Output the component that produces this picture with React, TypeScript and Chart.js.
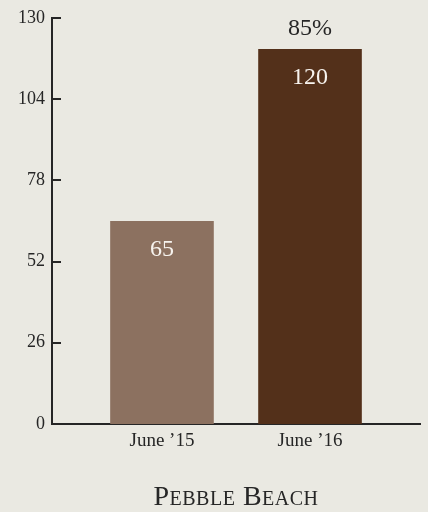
import React, { useEffect, useRef } from "react";
import { Chart, registerables } from "chart.js";

Chart.register(...registerables);

const categories = ["June ’15", "June ’16"];
const values = [65, 120];
const changeLabels = ["", "85%"];
const yTicks = [0, 26, 52, 78, 104, 130];
const barColors = ["#8C7160", "#53301A"];
const chartTitle = "Pebble Beach";

const FONT = "'Liberation Serif', 'DejaVu Serif', serif";
const INK = "#262626";
const BG = "#EAE9E2";

const inwardTicks = {
  id: "inwardTicks",
  afterDraw(chart: any) {
    const { ctx, chartArea, scales } = chart;
    const y = scales.y;
    ctx.save();
    ctx.strokeStyle = INK;
    ctx.lineWidth = 2;
    yTicks.forEach((v) => {
      const py = Math.round(y.getPixelForValue(v));
      ctx.beginPath();
      ctx.moveTo(chartArea.left, py);
      ctx.lineTo(chartArea.left + 9, py);
      ctx.stroke();
    });
    ctx.restore();
  },
};

const barLabels = {
  id: "barLabels",
  afterDatasetsDraw(chart: any) {
    const { ctx } = chart;
    const meta = chart.getDatasetMeta(0);
    ctx.save();
    ctx.textAlign = "center";
    ctx.textBaseline = "middle";
    ctx.font = `24px ${FONT}`;
    meta.data.forEach((bar: any, i: number) => {
      ctx.fillStyle = "#F7F3EE";
      ctx.fillText(String(values[i]), bar.x, bar.y + 29);
      if (changeLabels[i]) {
        ctx.fillStyle = INK;
        ctx.fillText(changeLabels[i], bar.x, bar.y - 20);
      }
    });
    ctx.restore();
  },
};

export default function App() {
  const ref = useRef<HTMLCanvasElement | null>(null);

  useEffect(() => {
    document.body.style.margin = "0";
    document.body.style.background = BG;
    const chart = new Chart(ref.current as HTMLCanvasElement, {
      type: "bar",
      data: {
        datasets: [
          {
            data: values.map((v, i) => ({ x: i, y: v })) as any,
            backgroundColor: barColors,
            barPercentage: 0.7,
            categoryPercentage: 1,
          },
        ],
      },
      options: {
        animation: false,
        responsive: false,
        maintainAspectRatio: false,
        layout: { padding: { top: 16, right: 8, left: 0, bottom: 0 } },
        plugins: {
          legend: { display: false },
          tooltip: { enabled: false },
          title: { display: false },
        },
        scales: {
          x: {
            type: "linear",
            min: -0.743,
            max: 1.743,
            offset: false,
            grid: { display: false, drawTicks: false },
            border: { display: true, color: INK, width: 2 },
            ticks: {
              font: { family: FONT, size: 19 },
              color: INK,
              padding: 6,
              autoSkip: false,
              maxRotation: 0,
              callback: (v: any) => categories[v] ?? "",
            },
            afterBuildTicks: (s: any) => {
              s.ticks = categories.map((_, i) => ({ value: i }));
            },
            afterFit: (s: any) => {
              s.height = 88;
            },
          } as any,
          y: {
            min: 0,
            max: 130,
            grid: { display: false, drawTicks: false },
            border: { display: true, color: INK, width: 2 },
            ticks: {
              font: { family: FONT, size: 18 },
              color: INK,
              padding: 7,
            },
            afterBuildTicks: (s: any) => {
              s.ticks = yTicks.map((v) => ({ value: v }));
            },
            afterFit: (s: any) => {
              s.width = 52;
            },
          },
        },
      },
      plugins: [inwardTicks, barLabels],
    });
    return () => chart.destroy();
  }, []);

  return (
    <div style={{ position: "relative", width: 428, height: 512, background: BG }}>
      <canvas ref={ref} width={428} height={512} style={{ width: 428, height: 512, display: "block" }} />
      <div
        style={{
          position: "absolute",
          left: 52,
          width: 368,
          top: 482,
          textAlign: "center",
          fontFamily: FONT,
          fontSize: 28,
          lineHeight: "28px",
          fontVariant: "small-caps",
          letterSpacing: "0.5px",
          color: INK,
        }}
      >
        {chartTitle}
      </div>
    </div>
  );
}
